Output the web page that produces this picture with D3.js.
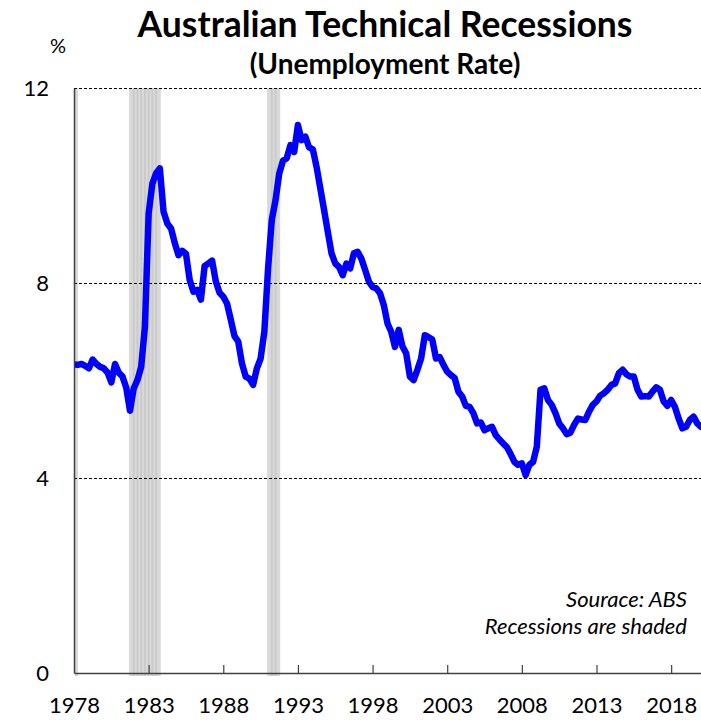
<!DOCTYPE html>
<html>
<head>
<meta charset="utf-8">
<script src="https://cdn.jsdelivr.net/npm/d3@7"></script>
<style>
  body { margin:0; background:#fff; }
  .textos { font-family: Lato, "Liberation Sans", sans-serif; fill:#000; }
</style>
</head>
<body>
<div id="zona_grafica"></div>
<script>
// Unemployment rate (%), quarterly from 1978 Q1
var startYear = 1978
var unemployment = [
  6.33, 6.32, 6.34, 6.30,   // 1978
  6.25, 6.43, 6.34, 6.28,   // 1979
  6.25, 6.16, 5.96, 6.34,   // 1980
  6.16, 6.08, 5.85, 5.38,   // 1981
  5.84, 6.01, 6.28, 7.10,   // 1982
  9.43, 10.04, 10.25, 10.35, // 1983
  9.46, 9.22, 9.12, 8.82,   // 1984
  8.57, 8.66, 8.60, 8.06,   // 1985
  7.82, 7.86, 7.66, 8.35,   // 1986
  8.40, 8.46, 8.03, 7.80,   // 1987
  7.72, 7.58, 7.25, 6.91,   // 1988
  6.80, 6.35, 6.08, 6.04,   // 1989
  5.91, 6.25, 6.45, 7.00,   // 1990
  8.30, 9.30, 9.70, 10.25,  // 1991
  10.51, 10.56, 10.83, 10.69, // 1992
  11.24, 10.93, 11.00, 10.78, // 1993
  10.74, 10.38, 9.94, 9.50, // 1994
  9.05, 8.61, 8.40, 8.33,   // 1995
  8.16, 8.40, 8.30, 8.61,   // 1996
  8.64, 8.50, 8.27, 8.03,   // 1997
  7.92, 7.89, 7.79, 7.55,   // 1998
  7.17, 7.00, 6.69, 7.04,   // 1999
  6.70, 6.56, 6.08, 6.01,   // 2000
  6.22, 6.45, 6.93, 6.89,   // 2001
  6.84, 6.45, 6.48, 6.32,   // 2002
  6.18, 6.11, 6.05, 5.77,   // 2003
  5.67, 5.48, 5.46, 5.33,   // 2004
  5.12, 5.14, 4.98, 5.02,   // 2005
  5.05, 4.88, 4.79, 4.71,   // 2006
  4.63, 4.49, 4.33, 4.27,   // 2007
  4.30, 4.06, 4.27, 4.33,   // 2008
  4.64, 5.81, 5.84, 5.60,   // 2009
  5.50, 5.33, 5.12, 5.02,   // 2010
  4.90, 4.93, 5.09, 5.22,   // 2011
  5.20, 5.19, 5.36, 5.50,   // 2012
  5.57, 5.69, 5.74, 5.81,   // 2013
  5.91, 5.94, 6.15, 6.22,   // 2014
  6.13, 6.08, 6.08, 5.81,   // 2015
  5.67, 5.68, 5.67, 5.77,   // 2016
  5.86, 5.81, 5.57, 5.48,   // 2017
  5.60, 5.46, 5.22, 5.02,   // 2018
  5.05, 5.19, 5.26, 5.12,   // 2019
  5.05                      // 2020
]

// Quarters in technical recession (start of quarter)
var recessionQuarters = [1978.0, 1981.75, 1982.0, 1982.25, 1982.5, 1982.75, 1983.0, 1983.25, 1983.5, 1991.0, 1991.25, 1991.5]

var xTicks = [1978, 1983, 1988, 1993, 1998, 2003, 2008, 2013, 2018]
var yTicks = [0, 4, 8, 12]

var titulo = "Australian Technical Recessions"
var subtitulo = "(Unemployment Rate)"
var notas = ["Sourace: ABS", "Recessions are shaded"]

var datos = unemployment.map((v,i)=>({fecha: startYear + i*0.25, valor: v}))

var width = 701,
    height = 720,
    margin = {top:87, right:0, left:74, bottom:47}

//Scales
var escalaX = d3.scaleLinear()
    .domain([1978, 2020])
    .range([margin.left, width - margin.right])

var escalaY = d3.scaleLinear()
    .domain([0, 12])
    .range([height - margin.bottom, margin.top + 1])

var svg = d3.select("#zona_grafica")
    .append("svg")
    .attr('width', width)
    .attr('height', height)

svg.append('rect').attr('width', width).attr('height', height).attr('fill', '#fff')

//Recession shading (overlapping quarter columns give the stripes)
var q = escalaX(1978.25) - escalaX(1978)
svg.append('g')
    .selectAll('rect')
    .data(recessionQuarters).enter()
    .append('rect')
    .attr('x', d => d === 1978 ? escalaX(d) + 1 : escalaX(d) - q*0.25)
    .attr('width', d => d === 1978 ? q*0.8 : q*1.5)
    .attr('y', escalaY(12))
    .attr('height', escalaY(0) - escalaY(12) + 3)
    .attr('fill', '#bfbfbf')
    .attr('opacity', 0.6)

//Gridlines
svg.append('g')
    .selectAll('line')
    .data(yTicks.filter(d => d > 0)).enter()
    .append('line')
    .attr('x1', margin.left)
    .attr('x2', width)
    .attr('y1', d => Math.round(escalaY(d)) + 0.5)
    .attr('y2', d => Math.round(escalaY(d)) + 0.5)
    .attr('stroke', '#000')
    .attr('stroke-width', 1)
    .attr('stroke-dasharray', '3,2')

//Y axis
var ejeY = d3.axisLeft(escalaY)
    .tickValues(yTicks)
    .tickSize(0)
    .tickPadding(25)
    .tickFormat(d3.format('d'))

svg.append('g')
    .attr('class', 'ejeY')
    .attr('transform', 'translate(' + margin.left + ',0)')
    .call(ejeY)
    .call(g => g.select('.domain').attr('stroke', '#404040').attr('stroke-width', 1.5))
    .call(g => g.selectAll('text').attr('class', 'textos').style('font-size', '22px').attr('fill', '#000'))

//X axis (ticks pointing into the plot)
var ejeX = d3.axisBottom(escalaX)
    .tickValues(xTicks)
    .tickSizeInner(-8)
    .tickSizeOuter(0)
    .tickPadding(24)
    .tickFormat(d3.format('d'))

svg.append('g')
    .attr('class', 'ejeX')
    .attr('transform', 'translate(0,' + escalaY(0) + ')')
    .call(ejeX)
    .call(g => g.select('.domain').attr('stroke', '#404040').attr('stroke-width', 1.5))
    .call(g => g.selectAll('.tick line').attr('stroke', '#404040').attr('stroke-width', 1.2))
    .call(g => g.selectAll('.tick').filter(d => d === 1978).select('line').remove())
    .call(g => g.selectAll('text').attr('class', 'textos').style('font-size', '22px').attr('fill', '#000'))

//Unemployment line
var linea = d3.line()
    .x(d => escalaX(d.fecha))
    .y(d => escalaY(d.valor))

svg.append('clipPath').attr('id', 'clip')
    .append('rect')
    .attr('x', margin.left + 1).attr('y', 0)
    .attr('width', width - margin.left).attr('height', height)

svg.append('path')
    .attr('d', linea(datos))
    .attr('clip-path', 'url(#clip)')
    .attr('fill', 'none')
    .attr('stroke', '#0000ff')
    .attr('stroke-width', 6.5)
    .attr('stroke-linejoin', 'round')
    .attr('stroke-linecap', 'round')

//Titles
svg.append('text')
    .attr('class', 'textos')
    .attr('x', 385).attr('y', 37)
    .attr('text-anchor', 'middle')
    .style('font-size', '35.5px')
    .style('font-weight', 'bold')
    .text(titulo)

svg.append('text')
    .attr('class', 'textos')
    .attr('x', 385).attr('y', 74)
    .attr('text-anchor', 'middle')
    .style('font-size', '28px')
    .style('font-weight', 'bold')
    .text(subtitulo)

svg.append('text')
    .attr('class', 'textos')
    .attr('x', 58).attr('y', 53)
    .attr('text-anchor', 'middle')
    .style('font-size', '20px')
    .text('%')

//Notes
svg.append('g')
    .selectAll('text')
    .data(notas).enter()
    .append('text')
    .attr('class', 'textos')
    .attr('x', 687)
    .attr('y', (d,i) => 607 + i*27)
    .attr('text-anchor', 'end')
    .style('font-size', '22px')
    .style('font-style', 'italic')
    .text(d => d)
</script>
</body>
</html>
